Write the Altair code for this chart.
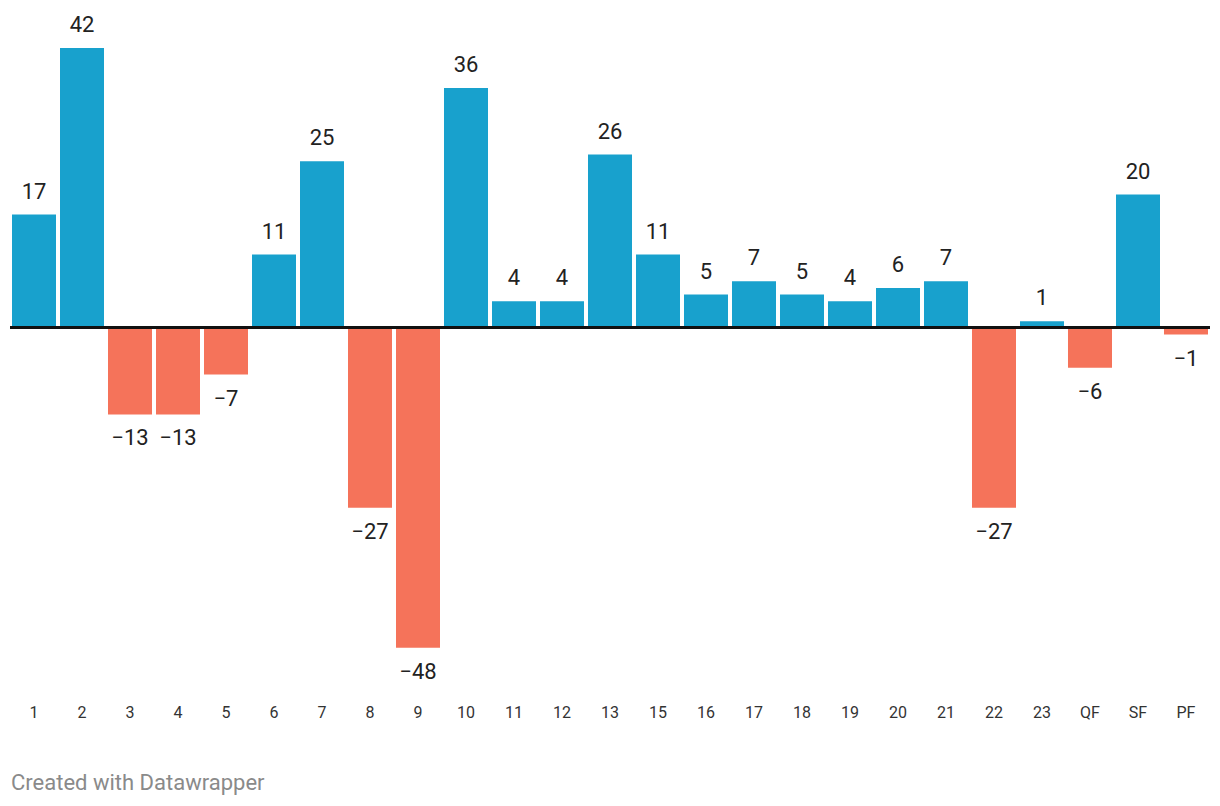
import altair as alt
import pandas as pd

categories = ["1", "2", "3", "4", "5", "6", "7", "8", "9", "10", "11", "12", "13",
              "15", "16", "17", "18", "19", "20", "21", "22", "23", "QF", "SF", "PF"]
values = [17, 42, -13, -13, -7, 11, 25, -27, -48, 36, 4, 4, 26,
          11, 5, 7, 5, 4, 6, 7, -27, 1, -6, 20, -1]

BLUE = "#18a1cd"
RED = "#f5735a"
FONT = "Roboto"

df = pd.DataFrame({"cat": categories, "value": values})
df["label"] = [str(v).replace("-", "\u2212") for v in values]

x_enc = alt.X("cat:N", sort=None, title=None,
              scale=alt.Scale(paddingInner=0.0833, paddingOuter=0.0417),
              axis=alt.Axis(labelAngle=0, domain=False, ticks=False, labelFontSize=16,
                            labelColor="#333333", labelFont=FONT, labelPadding=3))
y_scale = alt.Scale(domain=[-56, 42], nice=False, zero=False)

base = alt.Chart(df)

bars = base.mark_bar().encode(
    x=x_enc,
    y=alt.Y("value:Q", scale=y_scale, axis=None),
    y2=alt.datum(0),
    color=alt.condition(alt.datum.value < 0, alt.value(RED), alt.value(BLUE)),
)

pos_labels = base.transform_filter(alt.datum.value >= 0).mark_text(
    baseline="alphabetic", dy=-16, fontSize=22, font=FONT, color="#222222"
).encode(x=alt.X("cat:N", sort=None), y=alt.Y("value:Q", scale=y_scale), text="label:N")

neg_labels = base.transform_filter(alt.datum.value < 0).mark_text(
    baseline="alphabetic", dy=31, fontSize=22, font=FONT, color="#222222"
).encode(x=alt.X("cat:N", sort=None), y=alt.Y("value:Q", scale=y_scale), text="label:N")

zero = base.mark_rule(color="#111111", strokeWidth=2).encode(y=alt.datum(0))

chart = alt.layer(bars, zero, pos_labels, neg_labels).properties(
    width=1200, height=653,
    autosize=alt.AutoSizeParams(type="none"),
    padding={"left": 2, "top": 40, "right": 0, "bottom": 97},
    title=alt.TitleParams("Created with Datawrapper", orient="bottom", anchor="start",
                          fontSize=22, font=FONT, fontWeight="normal", color="#8a8a8a",
                          offset=53, dx=2),
).configure_view(stroke=None)

chart.save("out.html", embed_options={"renderer": "svg", "actions": False})
